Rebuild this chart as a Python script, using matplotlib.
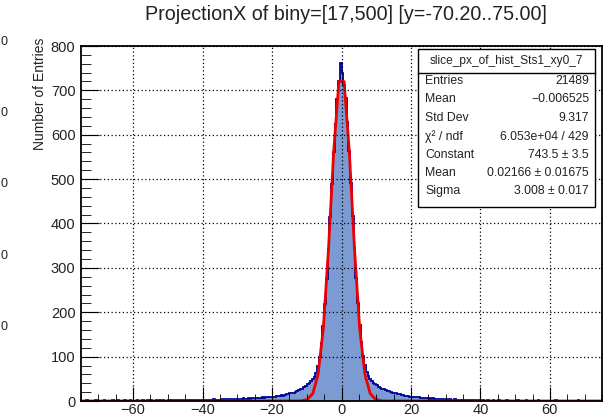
import numpy as np
import matplotlib
matplotlib.use("Agg")
import matplotlib.pyplot as plt
from matplotlib.patches import Rectangle
from matplotlib.lines import Line2D

plt.rcParams['font.family'] = ['Liberation Sans', 'DejaVu Sans']

# histogram: 300 bins of width 0.5 over [-75, 75], heights
x_lo, x_hi = -75.0, 75.0
counts_far_left = [1,0,1,2,0,1,1,0,2,1, 1,0,1,2,1,0,1,1,2,0, 1,2,1,1,0,2,1,1,2,1,
                   0,1,2,1,1,2,0,1,2,1, 2,1,1,3,1,2,1,2,1,1, 2,1,2,1,3,2,1,2,2,1,
                   2,3,1,2,2,3,2,1,3,2]
counts_left = [2,3,2,3,3,2,4,3,3,2, 3,4,3,4,3,5,4,3,4,5, 4,5,4,6,5,4,6,5,6,7]
counts_near_left = [6,7,6,7,8,7,8,9,8,10, 9,10,11,12,11,13,12,14,15,16,
                    17,18,19,21,22,24,26,28,31,34]
counts_core = [38,41,45,49,55,64,80,100,130,170, 218,275,342,415,490,560,625,680,722,762,
               740,712,682,628,563,492,418,345,278,220, 172,132,102,82,66,57,50,45,41,38]
counts_near_right = [35,32,30,28,26,25,23,22,21,19, 18,17,16,15,14,13,12,12,11,10,
                     10,9,9,8,8,7,7,6,7,6]
counts_right = [6,5,6,5,4,5,4,4,5,3, 4,3,4,3,3,4,2,3,3,2, 3,2,3,2,2,3,2,1,2,2]
counts_far_right = [1,2,1,1,2,1,0,2,1,1, 2,1,1,0,1,2,1,1,0,1, 1,2,0,1,1,1,2,0,1,1,
                    0,1,1,2,1,0,1,1,0,1, 1,0,1,2,0,1,1,0,1,1, 0,1,0,1,1,0,2,1,0,1,
                    1,0,1,0,1,1,0,1,0,1]
counts = np.array(counts_far_left + counts_left + counts_near_left + counts_core
                  + counts_near_right + counts_right + counts_far_right, dtype=float)
edges = np.linspace(x_lo, x_hi, len(counts) + 1)

# gaussian fit polyline as drawn (sampled points)
fit_x = [-75, -12.75, -11.25, -9.75, -8.25, -6.75, -5.25, -3.75, -2.25, -0.75,
         0.75, 2.25, 3.75, 5.25, 6.75, 8.25, 9.75, 11.25, 12.75, 75]
fit_y = [0, 0.1, 0.7, 3.9, 17, 60, 162, 342, 562, 720,
         720, 562, 342, 162, 60, 17, 3.9, 0.7, 0.1, 0]

title = "ProjectionX of biny=[17,500] [y=-70.20..75.00]"
stats_name = "slice_px_of_hist_Sts1_xy0_7"
stats_labels = ["Entries", "Mean", "Std Dev", "χ² / ndf", "Constant", "Mean", "Sigma"]
stats_values = ["21489", "−0.006525", "9.317", "6.053e+04 / 429",
                "743.5 ± 3.5", "0.02166 ± 0.01675", "3.008 ± 0.017"]

W, H = 611, 419
fig = plt.figure(figsize=(W / 100, H / 100), dpi=100)
ax = fig.add_axes([81 / W, 1 - 401 / H, (602 - 81) / W, (401 - 46) / H])

ax.stairs(counts, edges, fill=True, color='#7b9bd2', linewidth=0)
ax.stairs(counts, edges, color='#000099', linewidth=1.3)
ax.plot(fit_x, fit_y, color='#ee0000', linewidth=2)

ax.set_xlim(x_lo, x_hi)
ax.set_ylim(0, 800)
ax.set_xticks(np.arange(-60, 61, 20))
ax.set_xticks(np.arange(-75, 76, 5), minor=True)
ax.set_yticks(np.arange(0, 801, 100))
ax.set_yticks(np.arange(0, 801, 20), minor=True)
ax.set_xticklabels(["−60", "−40", "−20", "0", "20", "40", "60"])
ax.tick_params(axis='both', which='both', direction='in', labelsize=10.5,
               top=False, right=False, labelcolor='#222222')
ax.tick_params(axis='x', which='major', length=10, pad=1.5)
ax.tick_params(axis='x', which='minor', length=5)
ax.tick_params(axis='y', which='major', length=13, pad=4)
ax.tick_params(axis='y', which='minor', length=7)
ax.grid(True, which='major', color='black', linestyle=(0, (1, 2)), linewidth=0.9)
ax.set_axisbelow(False)
for s in ax.spines.values():
    s.set_linewidth(1.3)

fig.text(346 / W, 1 - 15 / H, title, ha='center', va='center', fontsize=14.2, color='#222222')
fig.text(40 / W, 1 - 38 / H, "Number of Entries", rotation=90, ha='center', va='top',
         fontsize=10, color='#222222')

# labels of a neighbouring plot at the left edge
for yy in [42, 113, 184, 256, 327]:
    fig.text(0.5 / W, 1 - yy / H, "0", ha='left', va='center', fontsize=9, color='#222222')

# stats box
bx0, bx1, by0, by1 = 418, 595, 49, 207
fig.patches.append(Rectangle((bx0 / W, 1 - by1 / H), (bx1 - bx0) / W, (by1 - by0) / H,
                             transform=fig.transFigure, facecolor='white',
                             edgecolor='black', linewidth=1, zorder=5))
fig.lines.append(Line2D([bx0 / W, bx1 / W], [1 - 73 / H, 1 - 73 / H],
                        transform=fig.transFigure, color='black', linewidth=1, zorder=6))
fig.text((bx0 + bx1) / 2 / W, 1 - 61 / H, stats_name, ha='center', va='center',
         fontsize=8.6, zorder=7, color='#222222')
row_y = [81, 99.5, 118, 136.5, 155, 173, 191]
for lab, val, yy in zip(stats_labels, stats_values, row_y):
    fig.text(425 / W, 1 - yy / H, lab, ha='left', va='center', fontsize=8.8, zorder=7,
             color='#222222')
    fig.text(589 / W, 1 - yy / H, val, ha='right', va='center', fontsize=8.8, zorder=7,
             color='#222222')

fig.savefig("out.png", dpi=100)
